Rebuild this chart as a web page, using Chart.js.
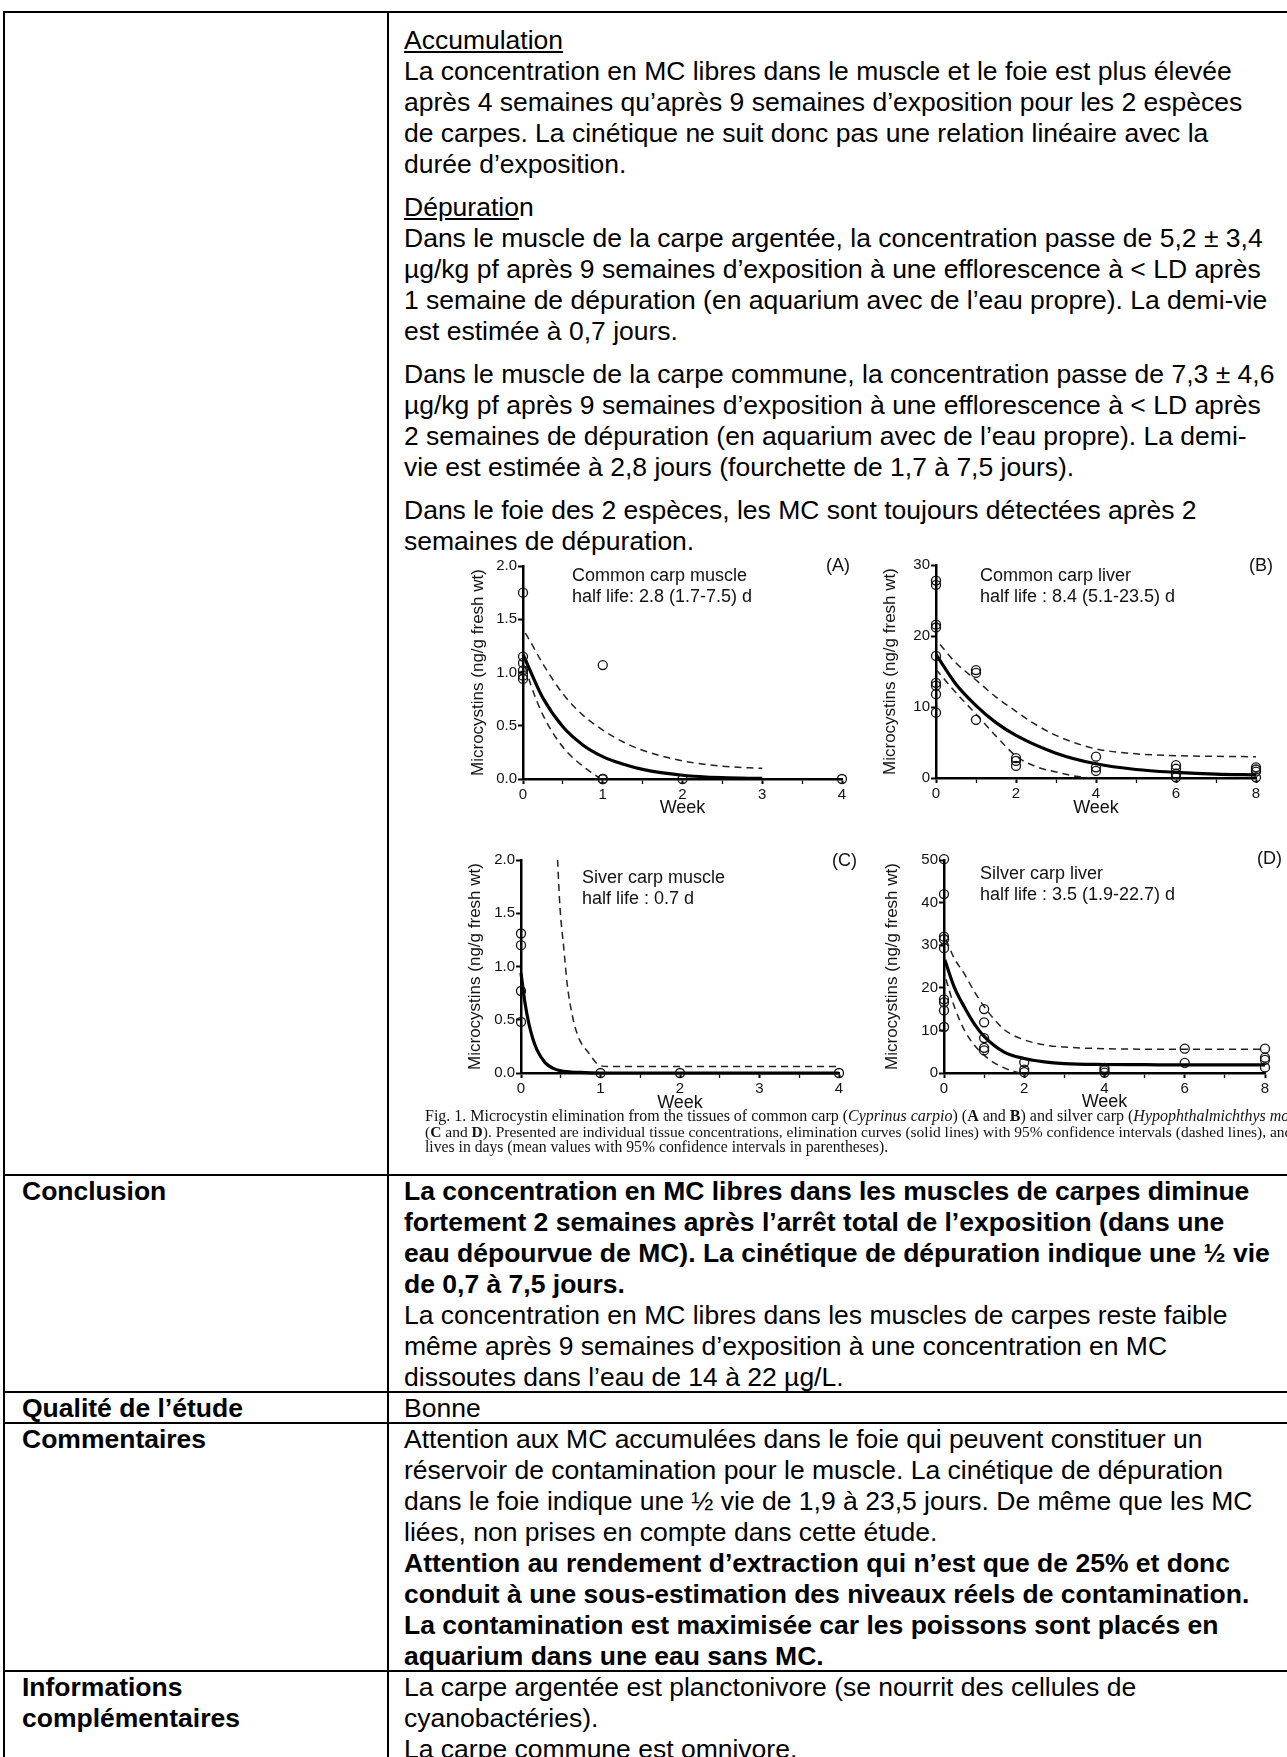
<!DOCTYPE html>
<html>
<head>
<meta charset="utf-8">
<script src="https://cdn.jsdelivr.net/npm/chart.js@4.4.0/dist/chart.umd.min.js"></script>
<style>
body { margin:0; width:1287px; height:1757px; overflow:hidden; background:#fff; position:relative;
       font-family:"Liberation Sans", Arial, sans-serif; color:#000; }
.hl { position:absolute; left:3px; width:1400px; height:2px; background:#000; }
.vl { position:absolute; top:11px; width:2px; height:1760px; background:#000; }
.txt { position:absolute; font-size:26.5px; line-height:31px; white-space:nowrap; }
.lab { left:22px; font-weight:bold; }
.col { left:404px; }
.note { position:absolute; font-size:18px; line-height:20.5px; white-space:nowrap; color:#111; }
.cap { position:absolute; left:425px; top:1108px; font-family:"Liberation Serif", "Times New Roman", serif;
       line-height:15.5px; white-space:nowrap; color:#111; }
.cap span { display:block; }
canvas { position:absolute; }
</style>
</head>
<body>

<!-- table lines -->
<div class="hl" style="top:11px"></div>
<div class="hl" style="top:1174px"></div>
<div class="hl" style="top:1391px"></div>
<div class="hl" style="top:1422px"></div>
<div class="hl" style="top:1670px"></div>
<div class="vl" style="left:3px"></div>
<div class="vl" style="left:387px"></div>

<!-- first row, right cell -->
<div class="txt col" style="top:25px"><u>Accumulation</u><br>
La concentration en MC libres dans le muscle et le foie est plus élevée<br>
après 4 semaines qu’après 9 semaines d’exposition pour les 2 espèces<br>
de carpes. La cinétique ne suit donc pas une relation linéaire avec la<br>
durée d’exposition.</div>

<div class="txt col" style="top:192px"><u>Dépuratio</u>n<br>
Dans le muscle de la carpe argentée, la concentration passe de 5,2 ± 3,4<br>
µg/kg pf après 9 semaines d’exposition à une efflorescence à &lt; LD après<br>
1 semaine de dépuration (en aquarium avec de l’eau propre). La demi-vie<br>
est estimée à 0,7 jours.</div>

<div class="txt col" style="top:359px">Dans le muscle de la carpe commune, la concentration passe de 7,3 ± 4,6<br>
µg/kg pf après 9 semaines d’exposition à une efflorescence à &lt; LD après<br>
2 semaines de dépuration (en aquarium avec de l’eau propre). La demi-<br>
vie est estimée à 2,8 jours (fourchette de 1,7 à 7,5 jours).</div>

<div class="txt col" style="top:495px">Dans le foie des 2 espèces, les MC sont toujours détectées après 2<br>
semaines de dépuration.</div>

<!-- figure -->
<canvas id="cA" width="402" height="273" style="left:468px;top:546px"></canvas>
<canvas id="cB" width="404" height="274" style="left:880px;top:545px"></canvas>
<canvas id="cC" width="402" height="274" style="left:465px;top:840px"></canvas>
<canvas id="cD" width="403" height="273" style="left:882px;top:840px"></canvas>

<div class="note" style="left:572px;top:565px">Common carp muscle<br>half life: 2.8 (1.7-7.5) d</div>
<div class="note" style="left:826px;top:555px">(A)</div>
<div class="note" style="left:980px;top:565px">Common carp liver<br>half life : 8.4 (5.1-23.5) d</div>
<div class="note" style="left:1249px;top:555px">(B)</div>
<div class="note" style="left:582px;top:867px;line-height:21px">Siver carp muscle<br>half life : 0.7 d</div>
<div class="note" style="left:832px;top:850px">(C)</div>
<div class="note" style="left:980px;top:863px;line-height:21px">Silver carp liver<br>half life : 3.5 (1.9-22.7) d</div>
<div class="note" style="left:1257px;top:848px">(D)</div>

<div class="cap">
<span style="font-size:16px">Fig. 1. Microcystin elimination from the tissues of common carp (<i>Cyprinus carpio</i>) (<b>A</b> and <b>B</b>) and silver carp (<i>Hypophthalmichthys molitrix</i>)</span>
<span style="font-size:15.5px">(<b>C</b> and <b>D</b>). Presented are individual tissue concentrations, elimination curves (solid lines) with 95% confidence intervals (dashed lines), and half-</span>
<span style="font-size:15.7px">lives in days (mean values with 95% confidence intervals in parentheses).</span>
</div>

<!-- lower rows -->
<div class="txt lab" style="top:1176px">Conclusion</div>
<div class="txt col" style="top:1176px"><b>La concentration en MC libres dans les muscles de carpes diminue<br>
fortement 2 semaines après l’arrêt total de l’exposition (dans une<br>
eau dépourvue de MC). La cinétique de dépuration indique une ½ vie<br>
de 0,7 à 7,5 jours.</b><br>
La concentration en MC libres dans les muscles de carpes reste faible<br>
même après 9 semaines d’exposition à une concentration en MC<br>
dissoutes dans l’eau de 14 à 22 µg/L.</div>

<div class="txt lab" style="top:1393px">Qualité de l’étude</div>
<div class="txt col" style="top:1393px">Bonne</div>

<div class="txt lab" style="top:1424px">Commentaires</div>
<div class="txt col" style="top:1424px">Attention aux MC accumulées dans le foie qui peuvent constituer un<br>
réservoir de contamination pour le muscle. La cinétique de dépuration<br>
dans le foie indique une ½ vie de 1,9 à 23,5 jours. De même que les MC<br>
liées, non prises en compte dans cette étude.<br>
<b>Attention au rendement d’extraction qui n’est que de 25% et donc<br>
conduit à une sous-estimation des niveaux réels de contamination.<br>
La contamination est maximisée car les poissons sont placés en<br>
aquarium dans une eau sans MC.</b></div>

<div class="txt lab" style="top:1672px">Informations<br>complémentaires</div>
<div class="txt col" style="top:1672px">La carpe argentée est planctonivore (se nourrit des cellules de<br>
cyanobactéries).<br>
La carpe commune est omnivore.</div>

<script>
// values

// (A) common carp muscle
const aPointsX = [0, 0, 0, 0, 0, 0, 1, 1, 1, 2, 4];
const aPointsY = [1.75, 1.15, 1.09, 1.02, 0.97, 0.94, 1.07, 0, 0, 0, 0];
const aFitX = [0, 0.1, 0.25, 0.5, 0.75, 1, 1.25, 1.5, 2, 2.5, 3];
const aFitY = [1.17, 1.0, 0.76, 0.49, 0.32, 0.21, 0.14, 0.09, 0.035, 0.012, 0.005];
const aUpX = [0.03, 0.1, 0.25, 0.5, 0.75, 1, 1.25, 1.5, 2, 2.5, 3];
const aUpY = [1.37, 1.28, 1.08, 0.8, 0.6, 0.46, 0.35, 0.27, 0.17, 0.12, 0.1];
const aLowX = [0.03, 0.1, 0.25, 0.5, 0.75, 0.9, 0.97];
const aLowY = [1.05, 0.88, 0.6, 0.3, 0.12, 0.04, 0];

// (B) common carp liver
const bPointsX = [0, 0, 0, 0, 0, 0, 0, 0, 0, 1, 1, 1, 2, 2, 2, 4, 4, 4, 6, 6, 6, 6, 8, 8, 8, 8];
const bPointsY = [27.8, 27.2, 21.6, 21.2, 17.2, 13.4, 13.0, 11.8, 9.2, 15.2, 14.8, 8.2, 2.8, 2.4, 1.7,
                  3.0, 1.5, 1.0, 1.8, 1.3, 0.6, 0.1, 1.5, 1.2, 0.9, 0.1];
const bFitX = [0, 0.5, 1, 1.5, 2, 3, 4, 5, 6, 7, 8];
const bFitY = [17.4, 13.2, 10.2, 7.8, 6.0, 3.5, 2.0, 1.2, 0.8, 0.55, 0.45];
const bUpX = [0.1, 0.5, 1, 1.5, 2, 2.5, 3, 3.5, 4, 5, 6, 7, 8];
const bUpY = [18.8, 16.2, 13.8, 11.4, 9.4, 7.5, 6.0, 4.9, 4.1, 3.4, 3.15, 3.05, 3.0];
const bLowX = [0, 0.5, 1, 1.5, 2, 2.5, 3, 3.5, 3.85];
const bLowY = [15.3, 12.0, 9.0, 5.9, 3.1, 1.6, 0.85, 0.25, 0];

// (C) silver carp muscle
const cPointsX = [0, 0, 0, 0, 1, 2, 4];
const cPointsY = [1.31, 1.2, 0.77, 0.48, 0, 0, 0];
const cFitX = [0, 0.05, 0.1, 0.15, 0.2, 0.3, 0.4, 0.5, 0.75, 1, 2, 3, 4];
const cFitY = [0.94, 0.66, 0.46, 0.32, 0.22, 0.1, 0.045, 0.02, 0.005, 0, 0, 0, 0];
const cUpX = [0.46, 0.49, 0.54, 0.58, 0.64, 0.72, 0.85, 0.97, 1.1, 2, 3, 4];
const cUpY = [2.0, 1.56, 1.16, 0.84, 0.56, 0.34, 0.19, 0.08, 0.06, 0.06, 0.06, 0.06];

// (D) silver carp liver
const dPointsX = [0, 0, 0, 0, 0, 0, 0, 0, 0, 1, 1, 1, 1, 1, 2, 2, 2, 4, 4, 4, 6, 6, 8, 8, 8, 8];
const dPointsY = [50.2, 42, 32, 31.4, 29.3, 17.3, 16.6, 14.7, 10.8, 15, 11.9, 8.2, 5.9, 5.3, 2.5, 0.8, 0.2,
                  1.2, 0.6, 0.1, 5.7, 2.4, 5.7, 3.6, 3.1, 1.3];
const dFitX = [0.02, 0.25, 0.5, 0.75, 1, 1.5, 2, 2.5, 3, 4, 5, 6, 7, 8];
const dFitY = [26.6, 20.3, 15.6, 11.6, 8.6, 4.9, 3.4, 2.6, 2.2, 2.0, 1.95, 1.9, 1.9, 1.9];
const dUpX = [0.05, 0.25, 0.5, 0.75, 1, 1.5, 2, 2.5, 3, 4, 5, 6, 7, 8];
const dUpY = [31.3, 27.0, 23.4, 19.2, 15.6, 10.2, 7.8, 6.6, 6.1, 5.7, 5.6, 5.6, 5.6, 5.6];
const dLowX = [0.05, 0.25, 0.5, 0.75, 1, 1.25, 1.5, 1.75, 1.9];
const dLowY = [22, 15.8, 10.2, 6.6, 4.2, 2.4, 1.2, 0.35, 0];

// tick labels
const weekTicks4 = [0, 1, 2, 3, 4];
const weekMinor4 = [0.5, 1.5, 2.5, 3.5];
const weekTicks8 = [0, 2, 4, 6, 8];
const weekMinor8 = [1, 3, 5, 7];
const muscleTicks = [0, 0.5, 1, 1.5, 2];
const liverTicksB = [0, 10, 20, 30];
const liverTicksD = [0, 10, 20, 30, 40, 50];

Chart.defaults.font.family = '"Liberation Sans", Arial, sans-serif';
Chart.defaults.color = '#111';

function xy(xs, ys) {
  return xs.map((x, i) => ({ x: x, y: ys[i] }));
}

function makePanel(id, p) {
  const datasets = [
    { data: xy(p.ptsX, p.ptsY), pointRadius: 4.5, pointBorderWidth: 1.3, pointBorderColor: '#111',
      pointBackgroundColor: 'rgba(0,0,0,0)', showLine: false, clip: false },
    { data: xy(p.fitX, p.fitY), showLine: true, pointRadius: 0, borderColor: '#000', borderWidth: 3.2,
      cubicInterpolationMode: 'monotone', clip: false }
  ];
  p.dashed.forEach(d => {
    datasets.push({ data: xy(d[0], d[1]), showLine: true, pointRadius: 0, borderColor: '#222',
      borderWidth: 1.5, borderDash: [7, 5], cubicInterpolationMode: 'monotone', clip: false });
  });

  const xAll = p.xMajor.concat(p.xMinor).sort((a, b) => a - b);

  new Chart(document.getElementById(id), {
    type: 'scatter',
    data: { datasets: datasets },
    options: {
      responsive: false,
      animation: false,
      layout: { padding: { top: p.padTop, right: p.padRight, left: 0, bottom: 0 } },
      plugins: { legend: { display: false }, tooltip: { enabled: false } },
      scales: {
        x: {
          type: 'linear', min: 0, max: p.xMax,
          afterBuildTicks: s => { s.ticks = xAll.map(v => ({ value: v })); },
          afterFit: s => { s.height = p.xH; },
          ticks: { autoSkip: false, maxRotation: 0, padding: 2, color: '#111', font: { size: 15 },
                   callback: v => p.xMajor.includes(v) ? String(v) : '' },
          grid: { drawOnChartArea: false, drawTicks: true, tickLength: 5, tickColor: '#000',
                  tickWidth: c => p.xMajor.includes(c.tick.value) ? 2 : 1.3 },
          border: { display: true, color: '#000', width: 2.5 },
          title: { display: true, text: 'Week', color: '#111', font: { size: 18 }, padding: 0 }
        },
        y: {
          type: 'linear', min: 0, max: p.yMax,
          afterBuildTicks: s => { s.ticks = p.yTicks.map(v => ({ value: v })); },
          afterFit: s => { s.width = p.yW; },
          ticks: { autoSkip: false, padding: 1, color: '#111', font: { size: 15 },
                   callback: v => p.yDec ? v.toFixed(1) : String(v) },
          grid: { drawOnChartArea: false, drawTicks: true, tickLength: 5, tickColor: '#000', tickWidth: 2 },
          border: { display: true, color: '#000', width: 2.5 },
          title: { display: true, text: 'Microcystins (ng/g fresh wt)', color: '#111', font: { size: 17 }, padding: 0 }
        }
      }
    }
  });
}

makePanel('cA', { ptsX: aPointsX, ptsY: aPointsY, fitX: aFitX, fitY: aFitY,
  dashed: [[aUpX, aUpY], [aLowX, aLowY]], xMax: 4, xMajor: weekTicks4, xMinor: weekMinor4,
  yMax: 2, yTicks: muscleTicks, yDec: true, yW: 55, xH: 40, padTop: 20, padRight: 28 });

makePanel('cB', { ptsX: bPointsX, ptsY: bPointsY, fitX: bFitX, fitY: bFitY,
  dashed: [[bUpX, bUpY], [bLowX, bLowY]], xMax: 8, xMajor: weekTicks8, xMinor: weekMinor8,
  yMax: 30, yTicks: liverTicksB, yDec: false, yW: 56, xH: 41, padTop: 20, padRight: 28 });

makePanel('cC', { ptsX: cPointsX, ptsY: cPointsY, fitX: cFitX, fitY: cFitY,
  dashed: [[cUpX, cUpY]], xMax: 4, xMajor: weekTicks4, xMinor: weekMinor4,
  yMax: 2, yTicks: muscleTicks, yDec: true, yW: 56, xH: 41, padTop: 20, padRight: 28 });

makePanel('cD', { ptsX: dPointsX, ptsY: dPointsY, fitX: dFitX, fitY: dFitY,
  dashed: [[dUpX, dUpY], [dLowX, dLowY]], xMax: 8, xMajor: weekTicks8, xMinor: weekMinor8,
  yMax: 50, yTicks: liverTicksD, yDec: false, yW: 62, xH: 40, padTop: 20, padRight: 20 });
</script>
</body>
</html>
